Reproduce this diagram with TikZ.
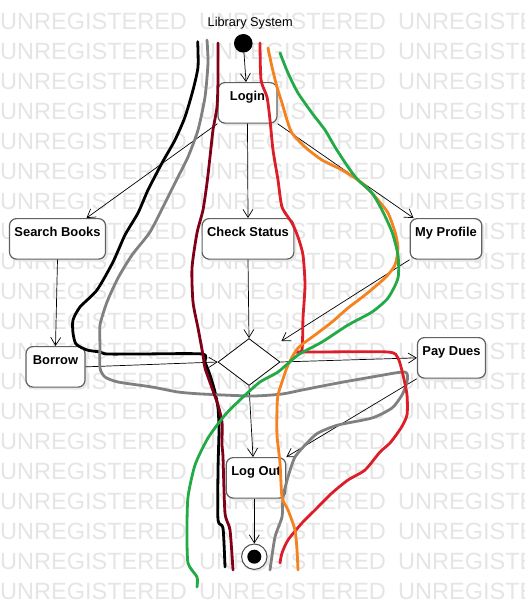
\documentclass[tikz,border=0pt]{standalone}
\usepackage{fontspec}
\setmainfont{Liberation Sans}
\usetikzlibrary{arrows.meta,shapes.geometric,shadows,calc}
\definecolor{scmaroon}{RGB}{128,0,24}
\definecolor{scred}{RGB}{220,30,40}
\definecolor{scorange}{RGB}{245,130,30}
\definecolor{scgreen}{RGB}{34,170,70}
\definecolor{scgray}{RGB}{128,128,128}
\tikzset{
  wm/.style={font={\fontsize{23.5}{26}\selectfont}, text=black!10, inner sep=0pt, anchor=base west},
  statebox/.style={draw=black!62, line width=1.2pt, rounded corners=7pt, fill=white,
    font={\fontsize{12.9}{15}\selectfont\bfseries}, inner xsep=5pt, inner ysep=4pt,
    text height=13.5pt, text depth=19pt, minimum width=59pt, anchor=north,
    drop shadow={shadow xshift=2.5pt, shadow yshift=-2.5pt, fill=black!9, opacity=1}},
  decision/.style={diamond, draw=black, line width=0.8pt, fill=white, inner sep=0pt,
    minimum width=62pt, minimum height=47pt, shape aspect=1.32},
  conn/.style={draw=black, line width=0.7pt, -{Straight Barb[length=8pt,width=10pt]}},
  scrib/.style={line width=2.8pt, line cap=round, line join=round}
}
\begin{document}
\begin{tikzpicture}[x=1pt,y=-1pt]
\useasboundingbox (0,0) rectangle (525,611);
\begin{scope}
\clip (0,0) rectangle (525,611);
\fill[white] (0,0) rectangle (525,611);
\foreach \i in {0,...,19}{
  \foreach \j/\x in {0/0,1/199,2/398}{
    \node[wm] (wm-\i-\j) at (\x,{29+30*\i}) {UNREGISTERED};
  }
}
\end{scope}

\node[font={\fontsize{12.75}{15}\selectfont}, anchor=base, inner sep=0pt] (title) at (250.2,26) {Library System};

\node[circle, fill=black, minimum size=18.6pt, inner sep=0pt] (init) at (243.3,43.3) {};

\node[statebox] (login) at (247.5,82) {Login};
\node[statebox] (search) at (57.5,218) {Search Books};
\node[statebox] (check) at (248,218) {Check Status};
\node[statebox] (profile) at (446,218) {My Profile};
\node[statebox] (borrow) at (55.5,346) {Borrow};
\node[statebox] (paydues) at (451.5,337) {Pay Dues};
\node[statebox] (logout) at (256,457) {Log Out};
\node[decision] (dec) at (249,362) {};

\node[circle, draw=black!70, line width=1pt, fill=white, minimum size=25.4pt, inner sep=0pt,
  drop shadow={shadow xshift=2pt, shadow yshift=-2pt, fill=black!9, opacity=1}] (final) at (254.3,556.7) {};
\node[circle, fill=black, minimum size=14pt, inner sep=0pt] (finalin) at (final) {};

\draw[conn] (init) -- (login);
\draw[conn] (login.south west) -- ($(search.north)+(29,0)$);
\draw[conn] (login.south) -- (check.north);
\draw[conn] (login.south east) -- ($(profile.north west)+(4,0)$);
\draw[conn] (search.south) -- (borrow.north);
\draw[conn] (check.south) -- (dec.north);
\draw[conn] (profile.south west) -- ($(dec.east |- dec.north)+(1,3)$);
\draw[conn] (borrow.east) -- (dec.west);
\draw[conn] (dec.east) -- (paydues.west);
\draw[conn] (paydues.south west) -- (logout.north east);
\draw[conn] (dec.south) -- ($(logout.north)+(-3,0)$);
\draw[conn] (logout.south -| final.north) -- (final.north);

% hand-drawn strokes
\draw[scrib, black] plot[smooth, tension=0.4] coordinates {(197.7,41.7) (198,67) (193,90) (185,117) (175,140) (162,163) (148,190) (138,213) (125,235) (113,262) (97,290) (80,307) (73,320) (73,333) (76,344) (87,350) (100,352) (107,354) (140,354) (202,354) (205,362) (210,375) (215,392) (218,408) (219,430) (218,470) (218,520) (223,528) (225,567)};
\draw[scrib, scgray] plot[smooth, tension=0.4] coordinates {(207,40) (208,63) (205,97) (198,130) (188,157) (178,177) (165,203) (150,232) (132,255) (118,278) (107,302) (100,325) (100,345) (100,368) (105,377) (118,382) (152,387) (178,392) (202,394) (252,396) (282,394) (302,390) (338,383) (372,377) (405,372) (407,382) (402,395) (392,408) (372,418) (338,425) (318,433) (308,442) (295,457) (288,477) (283,497) (282,517) (275,537) (270,570)};
\draw[scrib, scmaroon] plot[smooth, tension=0.4] coordinates {(218,43) (218,80) (217,107) (213,130) (210,157) (207,183) (203,210) (197,233) (192,268) (193,302) (198,328) (203,355) (205,368) (212,388) (218,405) (222,422) (222,445) (223,457) (225,513) (230,530) (233,570)};
\draw[scrib, scred] plot[smooth, tension=0.4] coordinates {(260,43) (261,80) (267,97) (270,120) (273,150) (278,180) (282,207) (292,223) (298,237) (303,255) (305,285) (303,318) (302,350) (296,352) (318,352) (388,352) (398,358) (403,375) (407,395) (407,415) (401,428) (390,443) (380,452) (365,470) (348,480) (332,493) (315,510) (302,523) (288,540) (282,553) (280,563)};
\draw[scrib, scorange] plot[smooth, tension=0.4] coordinates {(268,48) (272,67) (277,87) (282,103) (287,120) (292,133) (305,147) (322,160) (342,170) (362,183) (378,200) (388,213) (395,232) (398,248) (395,265) (385,278) (365,295) (348,308) (332,322) (315,335) (298,348) (288,365) (282,382) (278,395) (277,408) (277,435) (280,463) (282,497) (288,510) (295,530) (297,550) (298,570)};
\draw[scrib, scgreen] plot[smooth, tension=0.4] coordinates {(280,53) (288,73) (298,93) (312,113) (325,130) (335,147) (348,167) (358,180) (372,193) (382,210) (392,232) (398,255) (398,278) (388,298) (372,312) (348,325) (322,342) (298,355) (278,372) (260,382) (242,398) (225,415) (208,438) (195,465) (188,497) (187,530) (188,563) (197,577) (197,587)};
\end{tikzpicture}
\end{document}
